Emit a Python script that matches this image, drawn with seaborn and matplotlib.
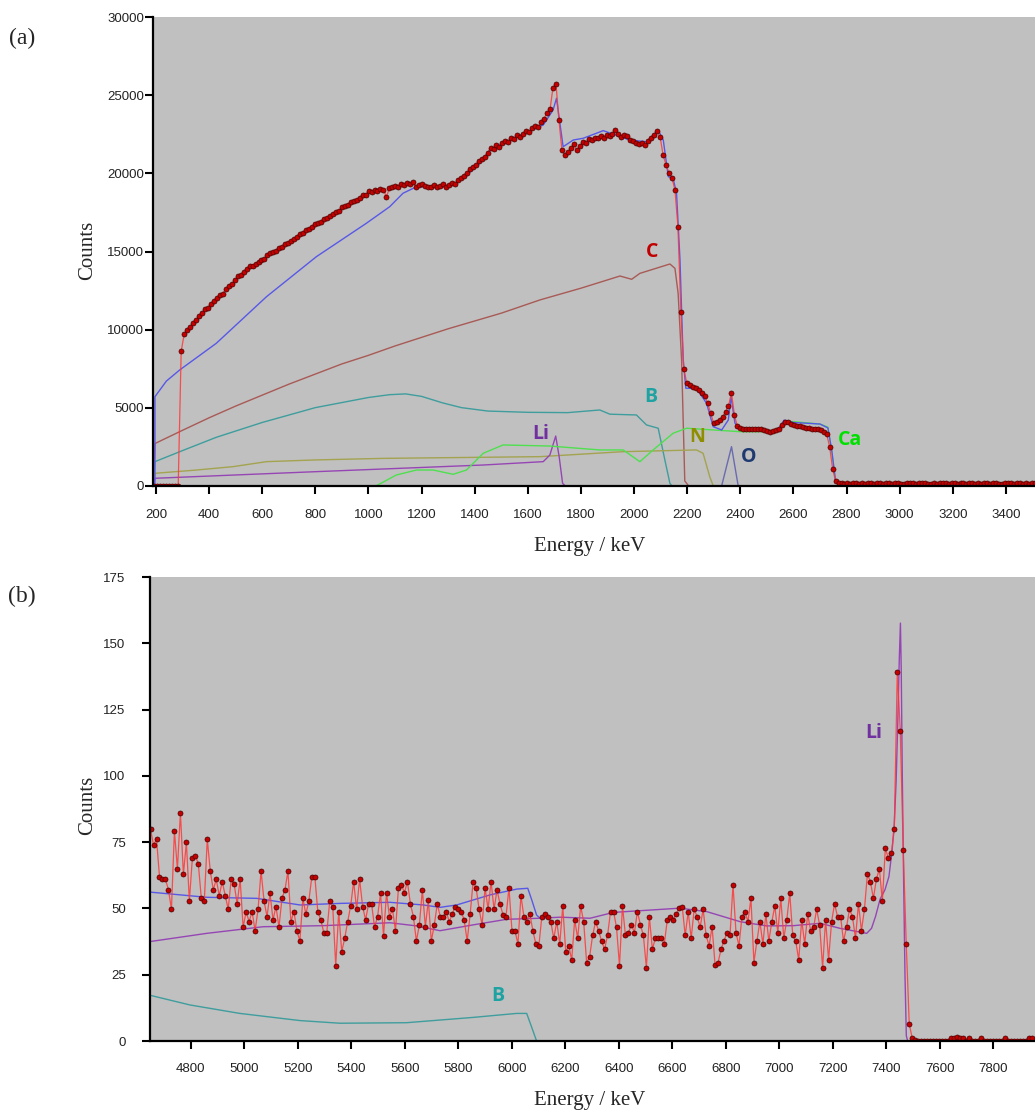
import numpy as np
import matplotlib
matplotlib.use("Agg")
import matplotlib.pyplot as plt
import seaborn as sns

sns.set_style("ticks")
plt.rcParams['font.family'] = ['Liberation Sans', 'DejaVu Sans']

# ---------------- panel (a) measured spectrum ----------------
A_E0, A_STEP = 194.0, 11.2
a_counts = [
    0, 0, 0, 0, 0, 0, 0, 0, 0,
    8600, 9700, 9950, 10150, 10450, 10600, 10850, 11050, 11300, 11400,
    11650, 11800, 12000, 12200, 12300, 12600, 12800, 12900, 13150, 13400,
    13500, 13700, 13850, 14050, 14100, 14200, 14350, 14450, 14500, 14750,
    14900, 14950, 15050, 15200, 15300, 15450, 15550, 15700, 15800, 15950,
    16100, 16200, 16400, 16450, 16600, 16750, 16850, 16900, 17050, 17150,
    17250, 17400, 17550, 17600, 17850, 17900, 18000, 18150, 18250, 18300,
    18450, 18600, 18650, 18850, 18800, 18950, 18900, 19000, 18950, 18500,
    19050, 19100, 19200, 19150, 19300, 19250, 19400, 19350, 19450, 19100,
    19250, 19300, 19200, 19100, 19150, 19250, 19100, 19200, 19300, 19150,
    19250, 19400, 19350, 19550, 19700, 19850, 20050, 20300, 20400, 20550,
    20800, 20950, 21050, 21300, 21650, 21550, 21800, 21700, 21950, 22050,
    22000, 22250, 22200, 22450, 22350, 22550, 22700, 22650, 22900, 23050,
    22950, 23300, 23500, 23900, 24100, 25500, 25750, 23400, 21500, 21150,
    21350, 21600, 21900, 21500, 21750, 22000, 21950, 22200, 22150, 22300,
    22250, 22400, 22300, 22450, 22400, 22550, 22750, 22500, 22350, 22450,
    22400, 22150, 22050, 21950, 21900, 21950, 21850, 22100, 22300, 22450,
    22700, 22350, 21200, 20550, 20050, 19700, 18950, 16600, 11100, 7450,
    6550, 6450, 6350, 6250, 6150, 5950, 5750, 5300, 4650, 4000,
    4050, 4200, 4400, 4750, 5100, 5950, 4500, 3800, 3700, 3650,
    3650, 3600, 3650, 3600, 3650, 3600, 3550, 3500, 3450, 3500,
    3550, 3650, 3900, 4100, 4050, 3950, 3900, 3850, 3800, 3750,
    3700, 3700, 3650, 3650, 3600, 3550, 3450, 3300, 2500, 1100,
    300, 150,
    150, 140, 160, 130, 150, 170, 140, 150, 130, 160, 150, 140, 170, 150,
    130, 150, 160, 140, 150, 170, 140, 130, 150, 160, 150, 140, 150, 170,
    160, 140, 130, 150, 140, 160, 150, 150, 140, 170, 150, 130, 150, 160,
    140, 150, 170, 140, 150, 130, 160, 150, 140, 150, 160, 140, 130, 150,
    170, 150, 140, 160, 150, 130, 150, 140, 160, 150,
]

# simulated total (a)
a_tot_e = [190, 196, 196, 239, 289, 427, 616, 804, 992, 1080, 1130, 1181, 1306, 1356,
           1419, 1457, 1557, 1658, 1695, 1708, 1733, 1771, 1808, 1884, 1984, 2047,
           2091, 2110, 2129, 2147, 2160, 2173, 2185, 2195, 2235, 2273, 2298, 2330,
           2355, 2365, 2380, 2399, 2450, 2490, 2515, 2540, 2565, 2600, 2700, 2730,
           2745, 2758, 2770, 3510]
a_tot_c = [0, 0, 5700, 6700, 7410, 9120, 12105, 14670, 16807, 17870, 18730, 19150,
           19150, 19690, 20650, 21500, 22350, 23100, 24060, 24810, 21710, 22140,
           22250, 22740, 22140, 22030, 22780, 22140, 19790, 19690, 18730, 14455, 8050,
           6240, 6240, 5280, 3780, 3570, 4210, 5700, 4000, 3680, 3650, 3600, 3450,
           3550, 4200, 4050, 3950, 3700, 2200, 400, 0, 0]
# element partial spectra (a)
a_C_e = [190, 196, 300, 400, 500, 600, 700, 800, 900, 1000, 1100, 1200, 1300, 1400,
         1500, 1646, 1800, 1947, 1991, 2022, 2135, 2154, 2166, 2179, 2191, 2205, 2260]
a_C_c = [0, 2700, 3550, 4350, 5100, 5800, 6500, 7150, 7800, 8350, 8950, 9500, 10050,
         10550, 11050, 11900, 12650, 13430, 13220, 13600, 14200, 13920, 12320, 8050,
         300, 0, 0]
a_B_e = [190, 196, 300, 427, 600, 800, 1000, 1080, 1140, 1200, 1280, 1350, 1450, 1600,
         1750, 1871, 1909, 2009, 2047, 2091, 2116, 2135, 2142]
a_B_c = [0, 1540, 2250, 3100, 4050, 5000, 5650, 5830, 5880, 5720, 5300, 5000, 4780,
         4700, 4680, 4850, 4580, 4530, 3890, 3680, 1650, 150, 0]
a_N_e = [190, 196, 350, 490, 616, 800, 1055, 1646, 1959, 2235, 2260, 2285, 2298]
a_N_c = [0, 795, 1000, 1220, 1540, 1650, 1750, 1860, 2180, 2290, 2075, 575, 0]
a_Li_e = [190, 196, 804, 1432, 1658, 1683, 1705, 1718, 1731, 1740]
a_Li_c = [0, 475, 900, 1325, 1540, 1965, 3180, 1860, 150, 0]
a_Ca_e = [1030, 1105, 1181, 1243, 1319, 1369, 1432, 1507, 1683, 1871, 1959, 2022, 2072,
          2147, 2198, 2399, 2524, 2545, 2568, 2700, 2730, 2745, 2758, 2770]
a_Ca_c = [0, 685, 1005, 1005, 730, 1005, 2075, 2610, 2540, 2290, 2290, 1540, 2290,
          3360, 3680, 3460, 3460, 3600, 4150, 3950, 3750, 2100, 400, 0]
a_O_e = [2330, 2367, 2392]
a_O_c = [0, 2500, 0]

# ---------------- panel (b) measured spectrum ----------------
B_E0, B_STEP = 4650.0, 11.165
b_counts = [
    79.8, 73.9, 76.1,
    62.0, 61.0, 61.0, 57.0, 49.7, 79.2, 64.9, 86.1, 62.9, 74.9,
    52.8, 68.9, 69.9, 66.8, 53.8, 52.8, 76.1, 64.1, 57.0, 61.0,
    54.8, 60.1, 54.8, 49.7, 61.0, 59.1, 51.7, 61.0, 42.9, 48.8,
    45.0, 48.8, 41.6, 49.7, 64.1, 52.8, 46.9, 55.7, 45.7, 50.7,
    42.9, 53.8, 57.0, 64.1, 45.0, 48.8, 41.6, 37.7, 53.8, 47.8,
    52.8, 62.0, 62.0, 48.8, 45.7, 40.9, 40.9, 52.8, 50.7, 28.4,
    48.8, 33.7, 38.7, 45.0, 51.0, 60.1, 49.7, 61.0, 50.7, 45.7,
    51.7, 51.7, 42.9, 46.9, 55.7, 39.7, 55.7, 46.9, 49.7, 41.6,
    57.8, 58.8, 56.0, 60.1, 51.7, 46.9, 37.7, 43.8, 57.0, 43.1,
    53.0, 37.7, 43.8, 51.7, 46.9, 46.9, 48.8, 45.0, 47.8, 50.7,
    49.7, 48.8, 45.7, 37.7, 47.8, 60.1, 57.8, 49.7, 43.8, 57.8,
    49.7, 60.1, 49.7, 57.0, 51.7, 47.6, 46.9, 57.8, 41.6, 41.6,
    36.6, 54.8, 46.9, 45.0, 47.8, 41.6, 36.6, 35.9, 46.9, 47.8,
    46.9, 45.0, 38.7, 45.0, 36.6,
    50.9, 33.7, 35.9, 30.6, 45.7, 38.7, 50.9, 45.0, 29.6, 31.8,
    39.8, 45.0, 41.6, 37.7, 34.6, 39.8, 48.8, 48.8, 42.9, 28.4,
    50.9, 39.8, 40.9, 43.8, 40.9, 48.8, 43.8, 39.8, 27.7, 46.9,
    34.6, 38.7, 38.7, 38.7, 36.6, 45.7, 46.9, 45.7, 47.8, 50.1,
    50.7, 39.8, 48.8, 38.7, 49.7, 46.9, 42.9, 49.7, 39.8, 35.9,
    43.1, 28.7, 29.6, 34.6, 37.7, 40.9, 39.8, 58.9, 40.9, 35.9,
    46.9, 48.8, 45.0, 53.8, 29.6, 37.7, 45.0, 36.6, 47.8, 37.7,
    45.0, 50.9, 40.9, 53.8, 38.7, 45.7, 55.7, 39.8, 37.7, 30.6,
    45.7, 36.6, 47.8, 41.6, 42.9, 49.7, 43.8, 27.7, 45.7, 30.6,
    45.0, 51.7, 46.9, 46.9, 37.7, 42.9, 49.7, 46.9, 38.7, 51.7,
    41.6, 49.7, 62.9, 60.1, 53.8, 61.0, 64.9, 52.8, 72.7, 68.9,
    70.8, 79.8,
    139.3, 117.1, 72.1, 36.6, 6.5, 1.0, 0.5,
    0, 0, 0, 0, 0, 0, 0, 0, 0, 0, 0, 1.0, 1.0, 1.4, 1.0, 1.0, 0, 1.0,
    0, 0, 0, 1.0, 0, 0, 0, 0, 0, 0, 0, 1.0, 0, 0, 0, 0, 0, 0, 0, 1.0, 1.0,
]

b_tot_e = [4648, 4654, 4860, 5047, 5209, 5358, 5545, 5670, 5732, 5794, 5919, 6019,
           6060, 6075, 6093, 6106]
b_tot_c = [56.3, 56.1, 54.2, 53.8, 51.3, 51.9, 52.3, 51.3, 50.4, 51.3, 55.1, 57.3,
           57.6, 53.2, 47.5, 46.3]
b_Li_e = [4648, 4860, 5071, 5296, 5545, 5645, 5732, 5856, 5981, 6106, 6181, 6293, 6380,
          6629, 6729, 6854, 6953, 7053, 7153, 7227, 7327, 7345, 7360, 7377, 7395, 7410,
          7422, 7430, 7437, 7443, 7449, 7453, 7456, 7460, 7465, 7470, 7475, 7480, 7956]
b_Li_c = [37.5, 40.6, 43.1, 43.5, 44.6, 43.4, 41.6, 43.8, 45.9, 46.3, 46.7, 46.3, 48.5,
          50.1, 48.8, 45.0, 43.4, 43.5, 44.4, 42.5, 40.6, 42.5, 47.0, 53.5, 57.0, 62.0,
          72.0, 82.0, 98.0, 120.0, 145.0, 157.6, 140.0, 100.0, 60.0, 25.0, 2.0, 0, 0]
b_B_e = [4648, 4654, 4797, 4984, 5209, 5358, 5607, 5856, 6018, 6056, 6074, 6093]
b_B_c = [17.3, 17.1, 13.6, 10.4, 7.7, 6.7, 6.9, 8.9, 10.4, 10.4, 5.4, 0]

# ---------------- styles ----------------
BG = '#c0c0c0'
COL_TOT = '#5858e8'
COL_C = '#a85a56'
COL_B = '#3f9d9d'
COL_N = '#a3a350'
COL_LI = '#9646b4'
COL_CA = '#4ee04e'
COL_O = '#6a6ab0'
COL_DLINE = '#ff3838'
COL_DMARK = '#c40000'

W, H = 1035, 1113
fig = plt.figure(figsize=(W / 100, H / 100), dpi=100)

ax_a = fig.add_axes([153 / W, 1 - 485.7 / H, (W - 153) / W, (485.7 - 17.3) / H])
ax_b = fig.add_axes([150 / W, 1 - 1041 / H, (W - 150) / W, (1041 - 577) / H])


def curve(ax, e, c, col, lw=1.0, z=2):
    sns.lineplot(x=e, y=c, ax=ax, color=col, linewidth=lw, sort=False,
                 estimator=None, zorder=z)


def data(ax, e0, step, counts):
    e = e0 + step * np.arange(len(counts))
    sns.lineplot(x=e, y=counts, ax=ax, color=COL_DLINE, linewidth=0.9, sort=False,
                 estimator=None, alpha=0.85, zorder=4)
    sns.scatterplot(x=e, y=counts, ax=ax, s=13, color=COL_DMARK, edgecolor='#4a0000',
                    linewidth=0.5, zorder=5)


# panel (a)
curve(ax_a, a_C_e, a_C_c, COL_C)
curve(ax_a, a_B_e, a_B_c, COL_B)
curve(ax_a, a_N_e, a_N_c, COL_N)
curve(ax_a, a_Li_e, a_Li_c, COL_LI)
curve(ax_a, a_Ca_e, a_Ca_c, COL_CA)
curve(ax_a, a_O_e, a_O_c, COL_O)
curve(ax_a, a_tot_e, a_tot_c, COL_TOT, z=3)
data(ax_a, A_E0, A_STEP, a_counts)

# panel (b)
curve(ax_b, b_B_e, b_B_c, COL_B)
curve(ax_b, b_tot_e, b_tot_c, COL_TOT, z=3)
curve(ax_b, b_Li_e, b_Li_c, COL_LI, z=3)
data(ax_b, B_E0, B_STEP, b_counts)

for ax in (ax_a, ax_b):
    ax.set_facecolor(BG)
    for s in ('top', 'right'):
        ax.spines[s].set_visible(False)
    for s in ('left', 'bottom'):
        ax.spines[s].set_color('black')
        ax.spines[s].set_linewidth(1.6)
        ax.spines[s].set_zorder(10)
    ax.set_xlabel('')
    ax.set_ylabel('')
    ax.tick_params(axis='both', direction='out', length=5.5, width=1.5,
                   color='black', labelsize=9.5, labelcolor='#222222')

ax_a.set_xlim(188.7, 3509.7)
ax_a.set_ylim(0, 30000)
ax_a.set_xticks(np.arange(200, 3401, 200))
ax_a.set_yticks(np.arange(0, 30001, 5000))
ax_a.tick_params(axis='x', pad=11)
ax_a.tick_params(axis='y', pad=1)

ax_b.set_xlim(4648, 7956)
ax_b.set_ylim(0, 175)
ax_b.set_xticks(np.arange(4800, 7801, 200))
ax_b.set_yticks(np.arange(0, 176, 25))
ax_b.tick_params(axis='x', pad=10)
ax_b.tick_params(axis='y', pad=12)

# element labels
lab = dict(fontfamily=['Open Sans', 'DejaVu Sans'], fontweight='bold', fontsize=14,
           ha='center', va='center', zorder=8)
ax_a.text(2067, 14970, 'C', color='#c00000', **lab)
ax_a.text(2063, 5680, 'B', color='#1ea2a2', **lab)
ax_a.text(1649, 3310, 'Li', color='#7030a0', **lab)
ax_a.text(2236, 3120, 'N', color='#8e8e00', **lab)
ax_a.text(2432, 1840, 'O', color='#1f3a70', **lab)
ax_a.text(2812, 2930, 'Ca', color='#00e000', **lab)
ax_b.text(7354, 116.2, 'Li', color='#7030a0', **lab)
ax_b.text(5949, 17.0, 'B', color='#1ea2a2', **lab)

serif = ['Liberation Serif', 'DejaVu Serif']
fig.text(22 / W, 1 - 38 / H, '(a)', fontfamily=serif, fontsize=17, ha='center', va='center')
fig.text(22 / W, 1 - 596 / H, '(b)', fontfamily=serif, fontsize=17, ha='center', va='center')
fig.text(88 / W, 1 - 250 / H, 'Counts', fontfamily=serif, fontsize=15, rotation=90,
         ha='center', va='center')
fig.text(88 / W, 1 - 805 / H, 'Counts', fontfamily=serif, fontsize=15, rotation=90,
         ha='center', va='center')
fig.text(590 / W, 1 - 547 / H, 'Energy / keV', fontfamily=serif, fontsize=15,
         ha='center', va='center')
fig.text(590 / W, 1 - 1100 / H, 'Energy / keV', fontfamily=serif, fontsize=15,
         ha='center', va='center')

fig.savefig('out.png', dpi=100, facecolor='white')
